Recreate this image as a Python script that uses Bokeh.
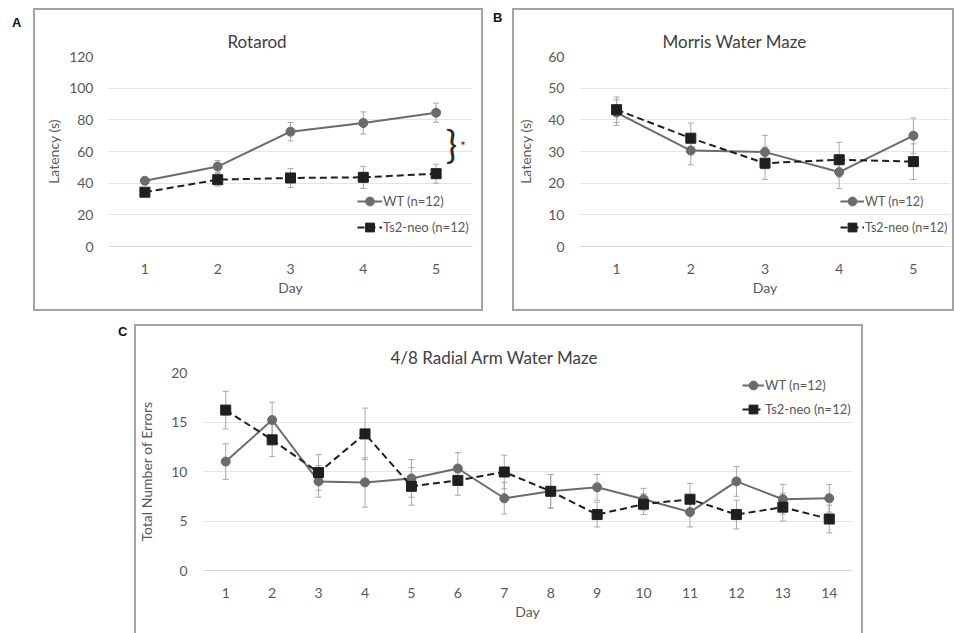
from bokeh.plotting import figure
from bokeh.models import (ColumnDataSource, Whisker, TeeHead, Range1d, Legend,
                          LegendItem, Label, Div, Spacer, FixedTicker, Title)
from bokeh.layouts import row, column
from bokeh.embed import file_html
from bokeh.resources import INLINE

FONT = "Lato"
GRAY = "#6b6b6b"
BLACK = "#1f1f1f"
ERR = "#a8a8a8"
TXT = "#595959"

# ---------------- data ----------------
days5 = [1, 2, 3, 4, 5]
rot_wt = [41.5, 50.5, 72.5, 78.0, 84.5]
rot_wt_err = [2.0, 3.8, 5.8, 7.0, 6.0]
rot_ts = [34.3, 42.2, 43.3, 43.7, 46.0]
rot_ts_err = [2.0, 4.0, 6.0, 7.0, 6.0]

mwm_wt = [42.3, 30.3, 29.8, 23.5, 35.0]
mwm_wt_err = [4.0, 4.5, 5.3, 5.2, 5.6]
mwm_ts = [43.2, 34.2, 26.3, 27.4, 26.8]
mwm_ts_err = [4.0, 4.8, 5.1, 5.5, 5.6]

days14 = [1, 2, 3, 4, 5, 6, 7, 8, 9, 10, 11, 12, 13, 14]
ram_wt = [11.0, 15.2, 9.0, 8.9, 9.3, 10.3, 7.3, 8.0, 8.4, 7.2, 5.9, 9.0, 7.2, 7.3]
ram_wt_err = [1.8, 1.8, 1.6, 2.5, 1.9, 1.6, 1.6, 1.7, 1.3, 1.1, 1.5, 1.5, 1.5, 1.4]
ram_ts = [16.2, 13.2, 9.9, 13.8, 8.5, 9.1, 9.95, 8.0, 5.65, 6.7, 7.2, 5.65, 6.4, 5.2]
ram_ts_err = [1.9, 1.7, 1.8, 2.6, 1.9, 1.5, 1.7, 1.7, 1.25, 1.05, 1.6, 1.45, 1.4, 1.4]

labels = ["WT (n=12)", "Ts2-neo (n=12)"]
titles = ["Rotarod", "Morris Water Maze", "4/8 Radial Arm Water Maze"]
ylabels = ["Latency (s)", "Latency (s)", "Total Number of Errors"]
xlabel = "Day"


def panel(title, ylabel, days, wt, wt_err, ts, ts_err, ymax, ystep,
          width, height, left, right, bottom, leg_loc, leg_spacing,
          glyph_w, leg_font, title_offset, ylab_standoff, shadow):
    p = figure(width=width, height=height, output_backend="svg",
               toolbar_location=None,
               x_range=Range1d(0.5, len(days) + 0.5),
               y_range=Range1d(0, ymax),
               min_border_left=left, min_border_right=right,
               min_border_top=48, min_border_bottom=bottom,
               styles={"box-shadow": shadow})
    p.border_fill_color = None
    p.background_fill_color = None
    p.outline_line_color = None

    # blank spacer title next to the frame, real title stacked above it
    p.title.text = " "
    p.title.text_font_size = "7px"
    p.title.standoff = 0
    p.add_layout(Title(text=title, align="left", offset=title_offset,
                       standoff=10, text_font=FONT, text_font_size="17px",
                       text_font_style="normal", text_color="#404040"),
                 "above")

    yt = list(range(0, ymax + 1, ystep))
    p.xaxis.ticker = FixedTicker(ticks=days)
    p.yaxis.ticker = FixedTicker(ticks=yt)
    p.ygrid.ticker = FixedTicker(ticks=yt)
    p.xgrid.visible = False
    p.ygrid.grid_line_color = "#e4e4e4"
    p.ygrid.grid_line_width = 1

    for ax in (p.xaxis[0], p.yaxis[0]):
        ax.major_tick_line_color = None
        ax.minor_tick_line_color = None
        ax.major_tick_out = 0
        ax.major_tick_in = 0
        ax.major_label_text_font = FONT
        ax.major_label_text_font_size = "14px"
        ax.major_label_text_color = TXT
        ax.axis_label_text_font = FONT
        ax.axis_label_text_font_size = "14px"
        ax.axis_label_text_font_style = "normal"
        ax.axis_label_text_color = TXT
    p.yaxis.axis_line_color = None
    p.xaxis.axis_line_color = "#d9d9d9"
    p.yaxis.major_label_standoff = 15
    p.xaxis.major_label_standoff = 17
    p.yaxis.axis_label = ylabel
    p.xaxis.axis_label = xlabel
    p.yaxis.axis_label_standoff = ylab_standoff
    p.xaxis.axis_label_standoff = 2

    src = ColumnDataSource(dict(
        x=days, wt=wt, ts=ts,
        wt_up=[v + e for v, e in zip(wt, wt_err)],
        wt_lo=[v - e for v, e in zip(wt, wt_err)],
        ts_up=[v + e for v, e in zip(ts, ts_err)],
        ts_lo=[v - e for v, e in zip(ts, ts_err)],
    ))
    for up, lo in (("wt_up", "wt_lo"), ("ts_up", "ts_lo")):
        p.add_layout(Whisker(base="x", upper=up, lower=lo, source=src,
                             line_color=ERR, line_width=1,
                             upper_head=TeeHead(size=6, line_color=ERR, line_width=1),
                             lower_head=TeeHead(size=6, line_color=ERR, line_width=1)))

    l1 = p.line("x", "wt", source=src, line_color=GRAY, line_width=2)
    s1 = p.scatter("x", "wt", source=src, marker="circle", size=9,
                   fill_color=GRAY, line_color=GRAY)
    l2 = p.line("x", "ts", source=src, line_color=BLACK, line_width=2,
                line_dash="7 4")
    s2 = p.scatter("x", "ts", source=src, marker="square", size=10,
                   fill_color=BLACK, line_color=BLACK)

    leg = Legend(items=[LegendItem(label=labels[0], renderers=[l1, s1]),
                        LegendItem(label=labels[1], renderers=[l2, s2])],
                 location=leg_loc, padding=0, margin=0,
                 border_line_color=None, background_fill_alpha=0,
                 glyph_width=glyph_w, glyph_height=22, label_height=22,
                 spacing=leg_spacing, label_standoff=1,
                 label_text_font=FONT, label_text_font_size=leg_font,
                 label_text_color=TXT)
    p.add_layout(leg)
    return p


BOX = "inset 0 0 0 2px #a3a3a3"
BOX_C = "inset 2px 0 0 0 #a3a3a3, inset -2px 0 0 0 #a3a3a3, inset 0 2px 0 0 #a3a3a3"

pA = panel(titles[0], ylabels[0], days5, rot_wt, rot_wt_err, rot_ts, rot_ts_err,
           120, 20, 450, 303, 75, 11, 65, (249, 8), 4, 25, "13px",
           119, 4, BOX)
# significance brace
pA.add_layout(Label(x=days5[-1] + 0.21, y=65.5, text="}", text_font=FONT,
                    text_font_size="38px", text_color="#2b2b2b",
                    text_align="center", text_baseline="middle"))
pA.add_layout(Label(x=days5[-1] + 0.37, y=63.5, text="*", text_font=FONT,
                    text_font_size="13px", text_color="#2b2b2b",
                    text_align="center", text_baseline="middle"))

pB = panel(titles[1], ylabels[1], days5, mwm_wt, mwm_wt_err, mwm_ts, mwm_ts_err,
           60, 10, 442, 303, 67, 4, 65, (261, 8), 4, 24, "12.5px",
           83, 11, BOX)

pC = panel(titles[2], ylabels[2], days14, ram_wt, ram_wt_err, ram_ts, ram_ts_err,
           20, 5, 729, 309, 68, 11, 63, (540, 150), 2, 22, "13px",
           188, 13, BOX_C)

LET = "font-family:'Liberation Sans',Arial,sans-serif;font-weight:bold;font-size:13px;color:#111;line-height:15px;"
dA = Div(text=f'<div style="{LET}margin:7px 0 0 12px;">A</div>', width=33, height=303, margin=0)
dB = Div(text=f'<div style="{LET}margin:2px 0 0 10px;">B</div>', width=29, height=303, margin=0)
dC = Div(text=f'<div style="{LET}margin:-4px 0 0 118px;">C</div>', width=134, height=309, margin=0)

layout = column(Spacer(width=10, height=8, margin=0),
                row(dA, pA, dB, pB),
                Spacer(width=10, height=13, margin=0),
                row(dC, pC))

open("out.html", "w").write(file_html(layout, INLINE))
